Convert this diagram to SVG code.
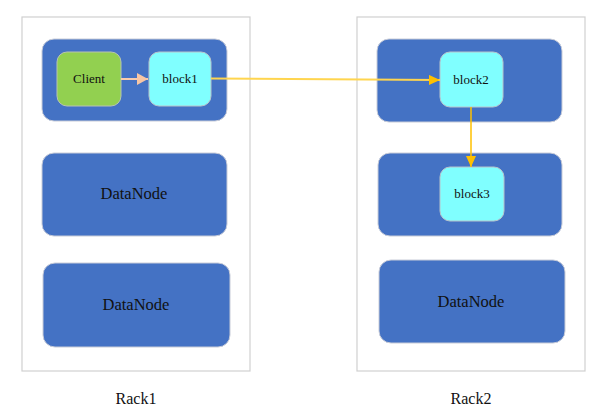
<svg xmlns="http://www.w3.org/2000/svg" width="602" height="419" viewBox="0 0 602 419" font-family="'Liberation Serif', 'Times New Roman', 'DejaVu Serif', serif">
<style>
.rack{fill:#fff;stroke:#d0d0d0;stroke-width:1.2}
.dn{fill:#4472C4;stroke:#c8ccd8;stroke-width:1}
.blk{fill:#80FFFF;stroke:#b8c4cc;stroke-width:1}
.cli{fill:#92D050;stroke:#b8c4b0;stroke-width:1}
text{fill:#111;text-anchor:middle}
.s{font-size:13px}
.m{font-size:16.5px}
.l{font-size:16px}
</style>
<defs>
<marker id="ap" markerWidth="11" markerHeight="12" refX="11" refY="6" orient="auto" markerUnits="userSpaceOnUse"><path d="M0,0 L11,6 L0,12 Z" fill="#F8C6A4"/></marker>
<marker id="ay" markerWidth="11" markerHeight="10" refX="11" refY="5" orient="auto" markerUnits="userSpaceOnUse"><path d="M0,0 L11,5 L0,10 Z" fill="#FFC000"/></marker>
</defs>
<g id="rack1"><rect class="rack" x="22" y="17" width="228" height="354"/><text class="l" x="136" y="404">Rack1</text></g>
<g id="rack2"><rect class="rack" x="357" y="17" width="228" height="354"/><text class="l" x="471" y="404">Rack2</text></g>
<g id="r1dn1"><rect class="dn" x="42" y="39" width="185" height="82" rx="12"/></g>
<g id="r1dn2"><rect class="dn" x="42" y="153" width="185" height="83" rx="12"/><text class="m" x="134" y="199">DataNode</text></g>
<g id="r1dn3"><rect class="dn" x="43" y="263" width="187" height="84" rx="12"/><text class="m" x="136" y="310">DataNode</text></g>
<g id="r2dn1"><rect class="dn" x="377" y="39" width="185" height="83" rx="12"/></g>
<g id="r2dn2"><rect class="dn" x="378" y="153" width="184" height="83" rx="12"/></g>
<g id="r2dn3"><rect class="dn" x="379" y="260" width="186" height="83" rx="12"/><text class="m" x="471" y="307">DataNode</text></g>
<g id="client"><rect class="cli" x="57" y="52" width="64" height="54" rx="10"/><text class="s" x="89" y="83">Client</text></g>
<g id="block1"><rect class="blk" x="149" y="52" width="62" height="54" rx="10"/><text class="s" x="180" y="83">block1</text></g>
<g id="block2"><rect class="blk" x="440" y="52" width="63" height="55" rx="10"/><text class="s" x="471" y="84">block2</text></g>
<g id="block3"><rect class="blk" x="440" y="167" width="64" height="54" rx="10"/><text class="s" x="472" y="198">block3</text></g>
<g id="connectors">
<line x1="121" y1="79" x2="148" y2="79" stroke="#F8CBAD" stroke-width="2" marker-end="url(#ap)"/>
<line x1="211" y1="78.5" x2="440" y2="80" stroke="#FFD54F" stroke-width="2" marker-end="url(#ay)"/>
<line x1="471" y1="107" x2="471" y2="167" stroke="#FFC000" stroke-width="1.5" marker-end="url(#ay)"/>
</g>
</svg>
